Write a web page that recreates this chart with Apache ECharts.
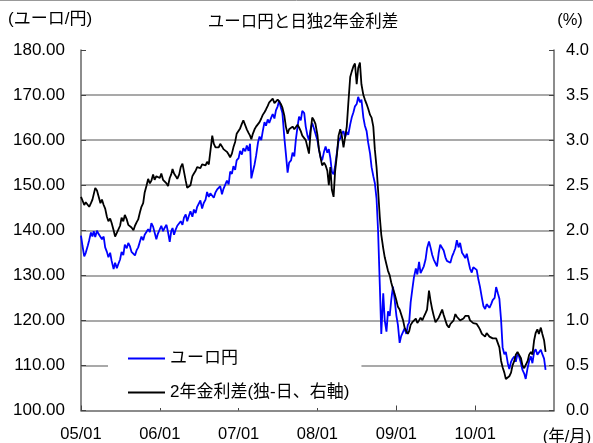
<!DOCTYPE html>
<html>
<head>
<meta charset="utf-8">
<script src="https://cdn.jsdelivr.net/npm/echarts@6/dist/echarts.min.js"></script>
<style>
  html, body { margin: 0; padding: 0; background: #fff; }
  #chart { width: 593px; height: 443px; }
</style>
</head>
<body>
<div id="chart"></div>
<script>
// Weekly observation days within each month (four per month)
const sampleDays = [1, 8, 16, 23];

// EUR/JPY (left axis), four values per month, Jan..Dec
const eurJpy2005 = [138.8,136.5,134.2,135.0, 136.5,137.8,139.5,138.6, 139.8,138.5,139.9,139.2, 139.0,138.0,138.6,136.2,
                    135.2,134.0,135.0,133.2, 131.4,132.8,131.6,132.5, 133.5,135.2,134.5,136.8, 136.0,137.2,136.4,135.2,
                    135.0,134.4,135.6,136.2, 137.5,138.6,137.8,139.0, 139.2,140.2,139.6,141.6, 140.8,139.5,138.0,139.2];
const eurJpy2006 = [139.5,141.0,139.8,140.5, 141.2,139.6,137.4,139.8, 140.5,139.0,140.2,141.0, 140.6,142.0,141.2,142.8,
                    143.5,142.0,143.2,144.2, 143.0,144.6,143.8,145.2, 145.5,146.6,144.8,146.0, 146.8,148.5,147.4,148.2,
                    148.5,147.2,148.4,149.0, 148.8,149.8,148.0,149.2, 149.5,151.0,150.2,153.0, 152.5,154.2,153.4,155.5];
const eurJpy2007 = [156.0,157.6,156.8,158.2, 157.5,158.8,157.6,159.2, 151.5,153.0,154.6,156.5, 159.5,160.8,160.0,162.0,
                    164.0,163.2,164.6,163.8, 165.0,165.8,164.8,166.6, 167.5,168.8,167.2,166.0, 160.5,157.0,152.8,155.0,
                    155.5,157.2,156.4,160.0, 163.0,165.2,164.4,166.5, 166.0,163.0,161.0,160.0, 162.5,163.8,162.6,163.0];
const eurJpy2008 = [160.0,158.0,156.2,155.5, 157.5,158.6,157.2,158.0, 156.0,153.0,152.4,154.2, 157.5,159.8,160.4,161.5,
                    162.0,160.6,161.8,161.2, 163.5,165.0,166.2,167.5, 168.0,169.6,168.4,169.0, 165.0,163.2,162.0,159.5,
                    157.0,154.0,152.0,150.5, 147.0,140.0,128.0,117.0, 126.0,120.0,117.5,122.0, 121.0,124.5,127.5,125.0];
const eurJpy2009 = [121.0,119.0,115.0,116.5, 116.5,118.2,117.0,119.0, 119.5,124.0,127.0,129.5, 131.5,130.2,133.0,130.5,
                    130.5,132.0,133.5,136.0, 137.5,136.2,134.5,133.5, 133.8,132.0,135.0,136.8, 137.2,135.5,134.0,133.2,
                    133.5,132.8,134.2,135.0, 136.0,137.8,136.2,137.2, 135.0,134.5,133.8,134.8, 133.0,131.5,130.6,131.8];
const eurJpy2010 = [132.0,131.2,129.0,127.5, 125.0,123.2,122.5,123.6, 124.0,122.8,123.6,124.5, 125.0,127.4,126.0,124.8,
                    120.0,114.0,112.5,113.0, 110.5,109.2,110.8,111.5, 112.0,110.8,112.6,112.0, 110.5,109.0,108.2,107.0,
                    109.5,111.0,112.0,110.5, 113.0,113.6,112.4,112.0, 113.5,112.5,111.5,109.0];

// 2-year yield spread, Germany minus Japan (%, right axis)
const spread2005 = [2.37,2.33,2.28,2.31, 2.33,2.26,2.30,2.34, 2.35,2.47,2.44,2.38, 2.30,2.34,2.28,2.24,
                    2.15,2.10,2.13,2.08, 2.00,1.93,1.97,1.98, 2.05,2.14,2.10,2.17, 2.12,2.06,2.08,2.03,
                    2.00,2.05,2.09,2.12, 2.20,2.26,2.30,2.42, 2.50,2.57,2.52,2.55, 2.62,2.56,2.60,2.58];
const spread2006 = [2.58,2.63,2.56,2.54, 2.52,2.49,2.58,2.62, 2.68,2.63,2.60,2.57, 2.62,2.70,2.74,2.76,
                    2.55,2.47,2.45,2.50, 2.60,2.63,2.66,2.70, 2.72,2.69,2.73,2.74, 2.72,2.76,2.73,2.75,
                    3.05,2.96,2.92,2.90, 2.92,2.96,2.93,2.90, 2.92,2.87,2.84,2.81, 2.85,2.92,2.98,3.07];
const spread2007 = [3.07,3.13,3.18,3.22, 3.20,3.12,3.08,3.05, 3.01,3.07,3.12,3.15, 3.17,3.20,3.24,3.28,
                    3.31,3.34,3.38,3.42, 3.43,3.46,3.41,3.40, 3.45,3.43,3.40,3.36, 3.27,3.15,3.07,3.12,
                    3.10,3.15,3.12,3.10, 3.17,3.14,3.10,3.05, 3.05,3.00,3.02,2.85, 3.10,3.25,3.22,3.18];
const spread2008 = [3.06,2.90,2.80,2.72, 2.75,2.72,2.66,2.50, 2.70,2.45,2.37,2.65, 2.85,3.05,3.12,3.05,
                    2.92,2.90,3.15,3.40, 3.70,3.76,3.82,3.85, 3.62,3.80,3.86,3.62, 3.50,3.45,3.40,3.35,
                    3.28,3.25,3.15,2.90, 2.70,2.45,2.15,1.95, 1.80,1.70,1.62,1.55, 1.50,1.42,1.35,1.30];
const spread2009 = [1.22,1.15,1.12,1.10, 1.00,0.92,0.88,0.85, 0.88,0.95,0.98,1.00, 1.02,0.97,1.00,1.03,
                    1.00,1.04,1.08,1.12, 1.33,1.22,1.12,1.05, 0.98,1.00,1.03,1.05, 1.12,1.06,1.00,0.95,
                    0.92,0.96,0.98,1.00, 1.07,1.04,1.05,1.00, 0.98,1.02,1.05,1.06, 1.05,1.00,0.98,0.97];
const spread2010 = [0.98,0.96,0.93,0.90, 0.85,0.83,0.82,0.86, 0.84,0.82,0.80,0.80, 0.82,0.80,0.78,0.70,
                    0.55,0.48,0.42,0.35, 0.33,0.38,0.42,0.50, 0.55,0.62,0.65,0.62, 0.58,0.50,0.47,0.45,
                    0.55,0.62,0.65,0.62, 0.78,0.86,0.90,0.85, 0.92,0.85,0.78,0.65];

const years = [2005, 2006, 2007, 2008, 2009, 2010];
const eurJpyByYear = [eurJpy2005, eurJpy2006, eurJpy2007, eurJpy2008, eurJpy2009, eurJpy2010];
const spreadByYear = [spread2005, spread2006, spread2007, spread2008, spread2009, spread2010];

// x-axis tick labels (January of each year)
const tickYears = [2005, 2006, 2007, 2008, 2009, 2010];
const tickLabels = ['05/01', '06/01', '07/01', '08/01', '09/01', '10/01'];

function toPairs(byYear) {
  const perMonth = sampleDays.length;
  const out = [];
  byYear.forEach((vals, yi) => {
    vals.forEach((v, i) => {
      const d = new Date(years[yi], Math.floor(i / perMonth), sampleDays[i % perMonth]).getTime();
      out.push([d, v]);
    });
  });
  return out;
}

const tickTimes = tickYears.map(y => new Date(y, 0, 1).getTime());
const FONT = '"Liberation Sans", "Noto Sans CJK JP", sans-serif';
const FS = 16.5;

const chart = echarts.init(document.getElementById('chart'), null, { renderer: 'canvas' });
chart.setOption({
  animation: false,
  backgroundColor: '#fff',
  textStyle: { fontFamily: FONT },
  grid: { left: 81, right: 39, top: 50, bottom: 32, containLabel: false },
  xAxis: {
    type: 'value',
    min: new Date(2005, 0, 1).getTime(),
    max: new Date(2011, 0, 1).getTime(),
    axisLine: { show: true, lineStyle: { color: '#666', width: 1.5 } },
    axisTick: { show: true, inside: true, length: 5, customValues: tickTimes,
                lineStyle: { color: '#444', width: 1 } },
    axisLabel: {
      customValues: tickTimes,
      formatter: v => tickLabels[tickTimes.indexOf(v)] || '',
      fontSize: FS, color: '#000', margin: 16, fontFamily: FONT
    },
    splitLine: { show: false }
  },
  yAxis: [
    {
      type: 'value', min: 100, max: 180, interval: 10, position: 'left',
      axisLine: { show: true, lineStyle: { color: '#666', width: 1.5 } },
      axisTick: { show: true, inside: true, length: 5, lineStyle: { color: '#444' } },
      axisLabel: { formatter: v => v.toFixed(2), fontSize: 17, color: '#000', margin: 16, fontFamily: FONT },
      splitLine: { show: true, showMaxLine: false, showMinLine: false,
                   lineStyle: { color: '#8c8c8c', width: 1.5 } }
    },
    {
      type: 'value', min: 0, max: 4, interval: 0.5, position: 'right',
      axisLine: { show: true, lineStyle: { color: '#666', width: 1.5 } },
      axisTick: { show: true, inside: true, length: 5, lineStyle: { color: '#444' } },
      axisLabel: { formatter: v => v.toFixed(1), fontSize: FS, color: '#000', margin: 12, fontFamily: FONT },
      splitLine: { show: false }
    }
  ],
  legend: {
    orient: 'vertical',
    left: 108, top: 341,
    backgroundColor: '#fff',
    padding: [9, 12, 7, 20],
    itemWidth: 37, itemHeight: 2, itemGap: 17,
    icon: 'rect',
    textStyle: { fontSize: 17, color: '#000', fontFamily: FONT },
    data: ['ユーロ円', '2年金利差(独-日、右軸)']
  },
  graphic: [
    { type: 'line', shape: { x1: 0, y1: 0.5, x2: 593, y2: 0.5 }, style: { stroke: '#999', lineWidth: 1 } },
    { type: 'text', left: 8, top: 11, style: { text: '(ユーロ/円)', font: '17px ' + FONT, fill: '#000' } },
    { type: 'text', x: 303, y: 22, style: { text: 'ユーロ円と日独2年金利差', font: FS + 'px ' + FONT, fill: '#000', textAlign: 'center', textVerticalAlign: 'middle' } },
    { type: 'text', x: 570, y: 20, style: { text: '(%)', font: FS + 'px ' + FONT, fill: '#000', textAlign: 'center', textVerticalAlign: 'middle' } },
    { type: 'text', x: 567, y: 437, style: { text: '(年/月)', font: FS + 'px ' + FONT, fill: '#000', textAlign: 'center', textVerticalAlign: 'middle' } }
  ],
  series: [
    {
      name: 'ユーロ円', type: 'line', yAxisIndex: 0, showSymbol: false,
      data: toPairs(eurJpyByYear),
      itemStyle: { color: '#0000ff' },
      lineStyle: { color: '#0000ff', width: 1.8 }
    },
    {
      name: '2年金利差(独-日、右軸)', type: 'line', yAxisIndex: 1, showSymbol: false,
      data: toPairs(spreadByYear),
      itemStyle: { color: '#000' },
      lineStyle: { color: '#000', width: 1.8 }
    }
  ]
});
</script>
</body>
</html>
